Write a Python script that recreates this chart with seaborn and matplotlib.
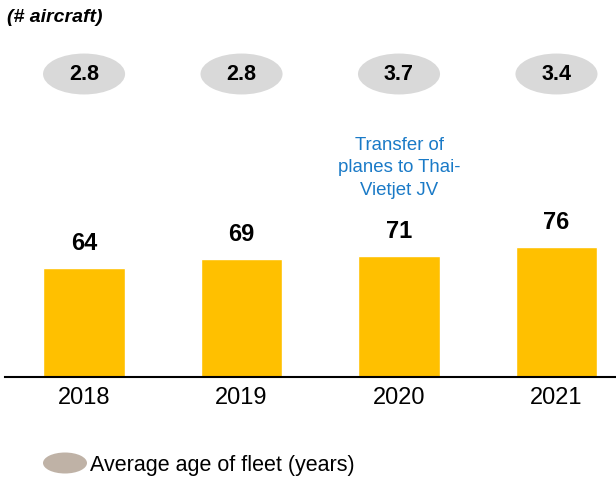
import seaborn as sns
import matplotlib.pyplot as plt
from matplotlib.patches import Ellipse

# Datos
years = ["2018", "2019", "2020", "2021"]
fleet = [64, 69, 71, 76]
avg_age = [2.8, 2.8, 3.7, 3.4]
note_text = "Transfer of\nplanes to Thai-\nVietjet JV"
note_year = "2020"

sns.set_style("white")
plt.rcParams['font.family'] = ['Liberation Sans', 'DejaVu Sans']
plt.rcParams['text.color'] = 'black'
plt.rcParams['xtick.color'] = 'black'

fig = plt.figure(figsize=(6.16, 4.79), dpi=100)
# eje de barras: base en y=377 px
ax = fig.add_axes([5 / 616, 102 / 479, 611 / 616, 377 / 479])

sns.barplot(x=years, y=fleet, color="#ffc000", saturation=1, width=0.52, ax=ax)
ax.set_xlim(-0.502, 3.378)
ax.set_ylim(0, 221.1)

for i, v in enumerate(fleet):
    ax.annotate(str(v), (i, v), xytext=(0, 17.6), textcoords="offset points",
                ha="center", va="center", fontsize=17, fontweight="bold")

# edad media de la flota en elipses
for i, a in enumerate(avg_age):
    ax.add_patch(Ellipse((i, 177.7), 0.521, 24.0, facecolor="#d9d9d9",
                         edgecolor="none", clip_on=False))
    ax.text(i, 177.2, f"{a:.1f}", ha="center", va="center",
            fontsize=15.5, fontweight="bold")

ax.text(years.index(note_year), 122.6, note_text, ha="center", va="center",
        fontsize=13.4, color="#1a7ac7", linespacing=1.42)

sns.despine(ax=ax, left=True)
ax.spines["bottom"].set_linewidth(1.5)
ax.spines["bottom"].set_color("black")
ax.set_yticks([])
ax.set_xlabel("")
ax.set_ylabel("")
ax.tick_params(axis="x", length=0, pad=7, labelsize=17, colors="black")

fig.text(7 / 616, 1 - 18 / 479, "(# aircraft)", fontsize=14,
         fontweight="bold", style="italic", va="center", ha="left")

# leyenda
fig.add_artist(Ellipse((65 / 616, 1 - 463 / 479), 44 / 616, 21 / 479,
                       transform=fig.transFigure, facecolor="#bfb2a6",
                       edgecolor="none"))
fig.text(90 / 616, 1 - 466 / 479, "Average age of fleet (years)",
         fontsize=15.5, va="center", ha="left")

fig.savefig("out.png", dpi=100)
